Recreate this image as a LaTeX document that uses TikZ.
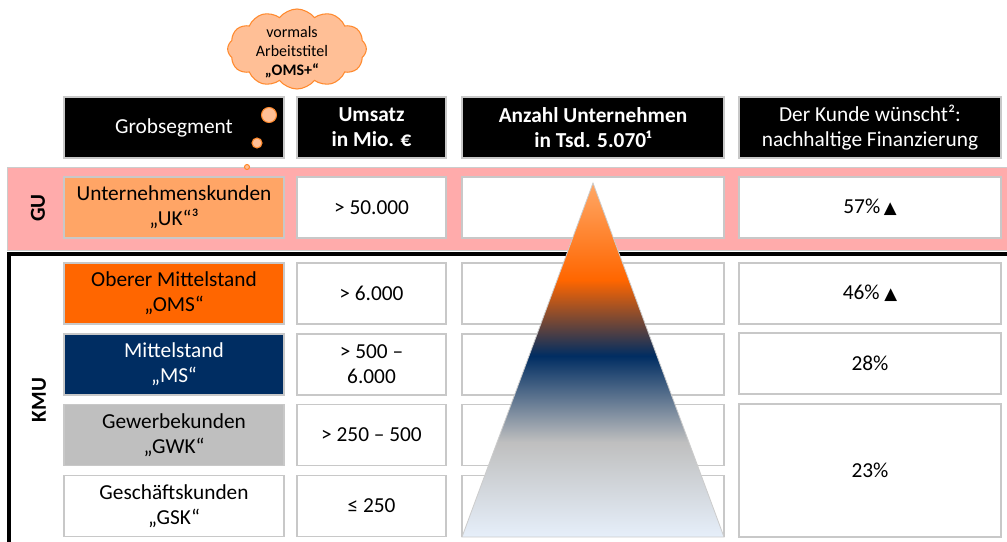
\documentclass[tikz,border=0pt]{standalone}
\usepackage{fontspec}
\setmainfont{Carlito}
\newfontfamily\symbolfont{DejaVu Sans}
\usepackage{tikz}
\usetikzlibrary{shapes.symbols}
\definecolor{bandc}{HTML}{FFABAB}
\definecolor{cellc}{HTML}{C8C8C8}
\definecolor{ukc}{HTML}{FFA566}
\definecolor{omsc}{HTML}{FF6600}
\definecolor{msc}{HTML}{002D62}
\definecolor{gwkc}{HTML}{BFBFBF}
\definecolor{cloudfill}{HTML}{FFBF96}
\definecolor{cloudline}{HTML}{FF8A2E}
\definecolor{pyrtop}{HTML}{FFA867}
\definecolor{pyrbot}{HTML}{E6EFFA}
\pgfdeclareverticalshading{pyramidshade}{100bp}{color(0bp)=(pyrbot); color(25bp)=(pyrbot);
  color(38.4bp)=(gwkc); color(50.6bp)=(msc); color(61.3bp)=(omsc); color(75bp)=(pyrtop);
  color(100bp)=(pyrtop)}
\tikzset{
  cellnode/.style={rectangle, draw=cellc, line width=0.9pt, fill=white, minimum height=45.75pt,
    inner sep=0pt, font=\fontsize{16}{18.75}\selectfont, align=center},
  headnode/.style={cellnode, fill=black, text=white},
  segcol/.style={minimum width=165pt},
  umscol/.style={minimum width=111.75pt},
  widecol/.style={minimum width=196.5pt},
  sidelabel/.style={rotate=90, font=\bfseries\fontsize{16}{18}\selectfont},
  bubble/.style={circle, draw=cloudline, fill=cloudfill, line width=0.8pt, inner sep=0pt},
}
\newcommand{\uptri}{{\symbolfont\fontsize{12.5}{14}\selectfont ▲}}

\begin{document}
\begin{tikzpicture}[x=0.75pt, y=-0.75pt]
  \useasboundingbox (0,0) rectangle (1007,542);
  % GU band and KMU frame
  \filldraw[fill=bandc, draw=black!20] (7,167) rectangle (1030,250);
  \draw[line width=2.3pt] (9,254) rectangle (1030,580);
  \node[sidelabel] (gu) at (38,208) {GU};
  \node[sidelabel] (kmu) at (39,400) {KMU};

  % header row
  \node[headnode, segcol] (hseg) at (174,127.5) {Grobsegment};
  \node[headnode, umscol, font=\bfseries\fontsize{16}{18.75}\selectfont] (hums) at (371.5,127.5) {Umsatz\\in Mio. €};
  \node[headnode, widecol, font=\bfseries\fontsize{16}{18.75}\selectfont] (hanz) at (593,127.5) {Anzahl Unternehmen\\in Tsd. 5.070¹};
  \node[headnode, widecol] (hkd) at (870,127.5) {Der Kunde wünscht²:\\nachhaltige Finanzierung};

  % segments
  \node[cellnode, segcol, fill=ukc] (uk) at (174,207.5) {Unternehmenskunden\\„UK“³};
  \node[cellnode, segcol, fill=omsc] (oms) at (174,293.5) {Oberer Mittelstand\\„OMS“};
  \node[cellnode, segcol, fill=msc, text=white] (ms) at (174,364.5) {Mittelstand\\„MS“};
  \node[cellnode, segcol, fill=gwkc] (gwk) at (174,435) {Gewerbekunden\\„GWK“};
  \node[cellnode, segcol] (gsk) at (174,506) {Geschäftskunden\\„GSK“};

  % Umsatz
  \node[cellnode, umscol] (umsuk) at (371.5,207.5) {> 50.000};
  \node[cellnode, umscol] (umsoms) at (371.5,293.5) {> 6.000};
  \node[cellnode, umscol] (umsms) at (371.5,364.5) {> 500 –\\6.000};
  \node[cellnode, umscol] (umsgwk) at (371.5,435) {> 250 – 500};
  \node[cellnode, umscol] (umsgsk) at (371.5,506) {≤ 250};

  % Anzahl (covered by the pyramid)
  \node[cellnode, widecol] (anzuk) at (593,207.5) {};
  \node[cellnode, widecol] (anzoms) at (593,293.5) {};
  \node[cellnode, widecol] (anzms) at (593,364.5) {};
  \node[cellnode, widecol] (anzgwk) at (593,435) {};
  \node[cellnode, widecol] (anzgsk) at (593,506) {};

  % Kundenwunsch
  \node[cellnode, widecol] (kduk) at (870,207.5) {57\%\,\uptri};
  \node[cellnode, widecol] (kdoms) at (870,293.5) {46\% \uptri};
  \node[cellnode, widecol] (kdms) at (870,363.5) {28\%};
  \node[cellnode, widecol, minimum height=99.75pt] (kdrest) at (870,470.5) {23\%};

  % pyramid
  \coordinate (apex) at (593,183);
  \coordinate (baseleft) at (462,537);
  \coordinate (baseright) at (724,537);
  \shade[shading=pyramidshade, draw=black!20, line width=0.6pt] (apex) -- (baseleft) -- (baseright) -- cycle;

  % thought cloud
  \node[cloud, cloud puffs=12, cloud puff arc=105, aspect=1.7, draw=cloudline, fill=cloudfill,
    line width=0.8pt, minimum width=104pt, minimum height=60pt, inner sep=0pt] (cloud) at (297,49) {};
  \node[align=center, font=\fontsize{12}{14.25}\selectfont] (cloudtext) at (292,52) {vormals\\Arbeitstitel\\\textbf{„OMS+“}};
  \node[bubble, minimum size=11.25pt] (bubblea) at (269,115) {};
  \node[bubble, minimum size=7.5pt] (bubbleb) at (257,143) {};
  \node[bubble, minimum size=3.75pt] (bubblec) at (247,167) {};
\end{tikzpicture}
\end{document}
